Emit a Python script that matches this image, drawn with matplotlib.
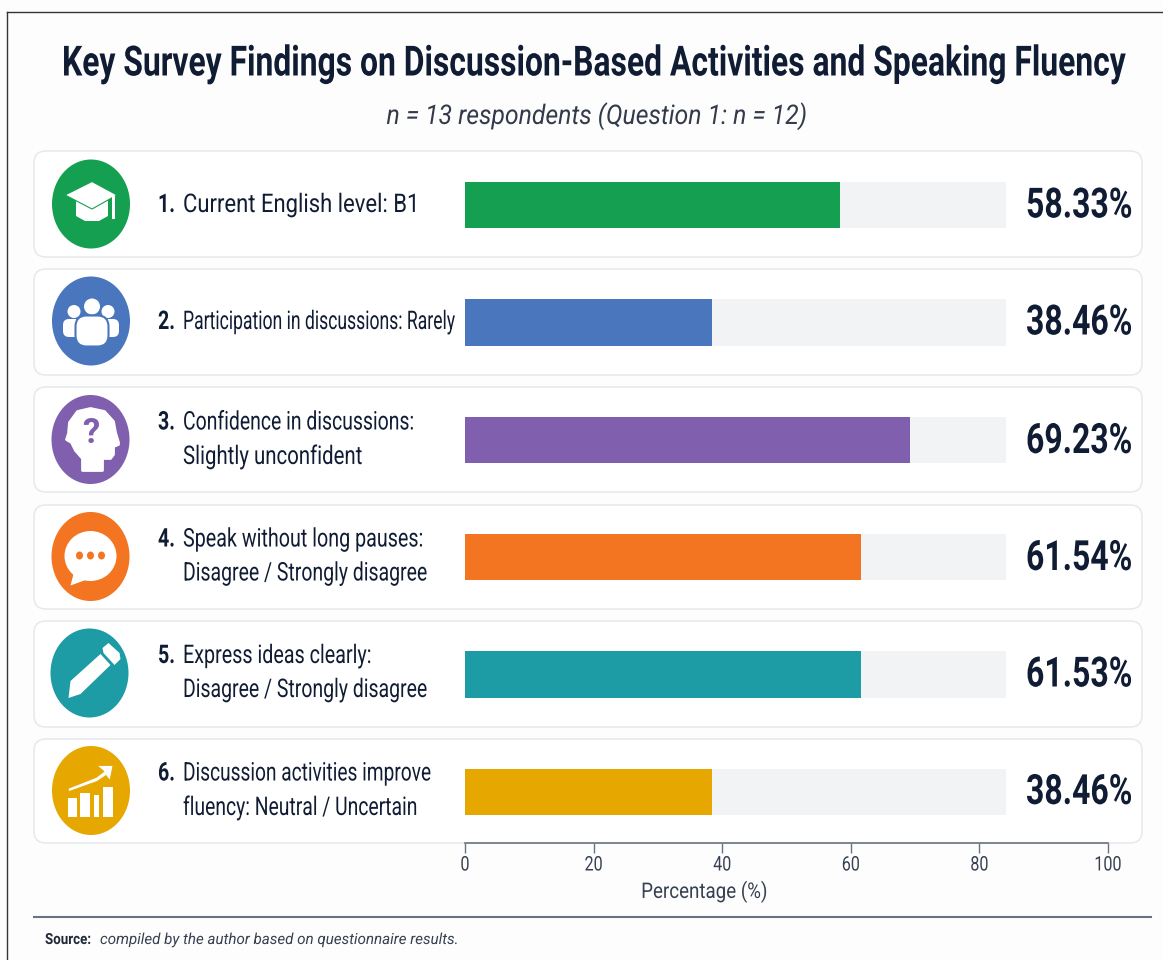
import matplotlib
matplotlib.use("Agg")
import matplotlib.pyplot as plt
from matplotlib.patches import Circle, Ellipse, FancyBboxPatch, Polygon, Rectangle
from matplotlib.patheffects import AbstractPathEffect
from matplotlib.transforms import Affine2D

# survey results
labels = [
    ["Current English level: B1"],
    ["Participation in discussions: Rarely"],
    ["Confidence in discussions:", "Slightly unconfident"],
    ["Speak without long pauses:", "Disagree / Strongly disagree"],
    ["Express ideas clearly:", "Disagree / Strongly disagree"],
    ["Discussion activities improve", "fluency: Neutral / Uncertain"],
]
values = [58.33, 38.46, 69.23, 61.54, 61.53, 38.46]
track_value = 84.1
colors = ["#14a050", "#4a76bd", "#7f5fae", "#f37421", "#1d9ca5", "#e6a800"]
ticks = [0, 20, 40, 60, 80, 100]

# how far each label line runs, in pixels
label_widths = [[237], [273], [232, 180], [241, 245], [189, 245], [249, 235]]

W, H = 1163, 960
NAVY = "#101c33"
GREY = "#6b7280"

plt.rcParams["font.family"] = ["Roboto", "DejaVu Sans"]

fig = plt.figure(figsize=(W / 100, H / 100), dpi=100, facecolor="#fdfdfd")
renderer = fig.canvas.get_renderer()


class Squeeze(AbstractPathEffect):
    # no condensed face is installed, so narrow the glyph outlines around x0
    def __init__(self, sx, x0):
        super().__init__()
        self.squeeze = Affine2D().translate(-x0, 0).scale(sx, 1).translate(x0, 0)

    def draw_path(self, renderer, gc, tpath, affine, rgbFace=None):
        super().draw_path(renderer, gc, tpath, affine + self.squeeze, rgbFace)


def squeezed(ax, x, y, s, width, **kw):
    t = ax.text(x, y, s, va="center", **kw)
    t.set_path_effects([Squeeze(width / t.get_window_extent(renderer).width, x)])
    return t


# pixel-space layer for cards, icons and text
bg = fig.add_axes([0, 0, 1, 1])
bg.set_xlim(0, W)
bg.set_ylim(H, 0)
bg.axis("off")

bg.plot([6.5, 6.5], [12, H], color="#333333", lw=1)
bg.plot([6.5, W], [12, 12], color="#333333", lw=1)

squeezed(bg, 593, 64, "Key Survey Findings on Discussion-Based Activities and Speaking Fluency",
         1062, ha="center", fontsize=30, fontweight="bold", color=NAVY)
squeezed(bg, 597, 116, "n = 13 respondents (Question 1: n = 12)",
         421, ha="center", fontsize=19.5, style="italic", color="#333b4a")

card_tops = [151, 269, 387, 505, 621, 739]
card_bottoms = [257, 375, 492, 609, 727, 843]
icon_y = [204, 321, 439.5, 556.5, 673, 790.5]
icon_x = [91, 91, 90.5, 90.5, 89.5, 91]

for t, b in zip(card_tops, card_bottoms):
    bg.add_patch(FancyBboxPatch((34 + 12, t + 12), 1108 - 24, b - t - 24,
                                boxstyle="round,pad=12,rounding_size=12",
                                fc="white", ec="#e6e8eb", lw=1.1))


def cap_icon(ax, x, y, c):
    ax.add_patch(Polygon([(x - 15, y - 6), (x + 1, y + 3), (x + 17, y - 6), (x + 17, y + 12),
                          (x + 8, y + 17), (x - 6, y + 17), (x - 15, y + 12)], fc="white"))
    ax.add_patch(Polygon([(x + 1, y - 22.5), (x - 26, y - 9), (x + 1, y + 5), (x + 26, y - 9)],
                         fc="white", ec=c, lw=0.8))
    ax.add_patch(Rectangle((x + 20.5, y - 8), 3.5, 23, fc="white"))


def people_icon(ax, x, y, c):
    for dx in (-17, 17):
        ax.add_patch(Circle((x + dx, y - 9.5), 6.5, fc="white"))
        ax.add_patch(FancyBboxPatch((x + dx - 7, y + 2), 14, 10,
                                    boxstyle="round,pad=4,rounding_size=6", fc="white", ec="none"))
    ax.add_patch(Circle((x + 1, y - 14.5), 8, fc="white"))
    ax.add_patch(FancyBboxPatch((x - 14, y - 4), 30, 28,
                                boxstyle="round,pad=1.5,rounding_size=11", fc="white", ec=c, lw=1.5))


def head_icon(ax, x, y, c):
    pts = [(-8, 31), (-8, 19), (-15, 11), (-19, 3), (-24, 0), (-22, -6), (-21, -17), (-13, -28),
           (0, -31), (14, -28), (23, -18), (25, -7), (28, 3), (28, 5), (23, 7), (23, 15),
           (20, 19), (12, 19), (12, 31)]
    ax.add_patch(Polygon([(x + a, y + b) for a, b in pts], fc="white", ec="white", lw=2,
                         joinstyle="round"))
    ax.text(x, y - 6, "?", ha="center", va="center", fontsize=25, fontweight="bold", color=c)


def bubble_icon(ax, x, y, c):
    ax.add_patch(Polygon([(x - 15, y + 10), (x - 20, y + 29), (x + 2, y + 21)], fc="white"))
    ax.add_patch(Ellipse((x, y - 0.5), 52, 50, fc="white"))
    for dx in (-11, 0, 11):
        ax.add_patch(Ellipse((x + dx, y - 1), 7, 8, fc=c))


def pencil_icon(ax, x, y, c):
    ax.add_patch(Polygon([(x - 21, y + 25), (x - 19, y + 8), (x + 11, y - 19), (x + 21, y - 8),
                          (x - 9, y + 21)], fc="white", joinstyle="round"))
    ax.add_patch(Polygon([(x + 13, y - 25), (x + 19, y - 30), (x + 30, y - 20), (x + 31, y - 14),
                          (x + 25, y - 8), (x + 14, y - 20)], fc="white", joinstyle="round"))


def growth_icon(ax, x, y, c):
    for dx, w, h in ((-23, 9, 19), (-11, 10, 24), (3, 5, 22), (12, 10, 30)):
        ax.add_patch(Rectangle((x + dx, y + 26 - h), w, h, fc="white"))
    ax.add_patch(Polygon([(x - 23, y - 2), (x + 5, y - 13), (x + 13, y - 19), (x + 6, y - 25),
                          (x + 22, y - 25), (x + 19, y - 10), (x + 15, y - 15), (x + 6, y - 9),
                          (x - 22, y + 1)], fc="white", ec=c, lw=0.6))


icons = [cap_icon, people_icon, head_icon, bubble_icon, pencil_icon, growth_icon]
for draw, x, y, c in zip(icons, icon_x, icon_y, colors):
    bg.add_patch(Ellipse((x, y), 78, 89, fc=c, ec="none"))
    draw(bg, x, y, c)

# row labels and percentages
for i, (lines, widths, y) in enumerate(zip(labels, label_widths, icon_y)):
    first_y = y + 1 if len(lines) == 1 else y - 17
    squeezed(bg, 158, first_y, f"{i + 1}.", 17, ha="left", fontsize=18.5, fontweight="bold", color=NAVY)
    for n, (line, w) in enumerate(zip(lines, widths)):
        squeezed(bg, 183, first_y + n * 34, line, w, ha="left", fontsize=18.5, color=NAVY)
    squeezed(bg, 1132, y + 2, f"{values[i]:.2f}%", 106, ha="right",
             fontsize=30, fontweight="bold", color=NAVY)

bg.plot([34, 1151], [917, 917], color="#6b7280", lw=1.5)
squeezed(bg, 45, 940, "Source:", 46, ha="left", fontsize=11, fontweight="bold", color="#1f2937")
squeezed(bg, 100, 940, "compiled by the author based on questionnaire results.", 358, ha="left",
         fontsize=11, style="italic", color="#374151")

# bars on a real percentage axis, lined up with the cards
left, right, top, bottom = 465, 1108, 151, 843
ax = fig.add_axes([left / W, 1 - bottom / H, (right - left) / W, (bottom - top) / H])
ax.patch.set_alpha(0)
row_step = 117.4
ax.set_xlim(0, 100)
ax.set_ylim((bottom - 205) / row_step, (top - 205) / row_step)
rows = list(range(len(values)))
ax.barh(rows, [track_value] * len(values), height=0.395, color="#f2f3f5")
ax.barh(rows, values, height=0.395, color=colors)
ax.set_yticks([])
ax.set_xticks(ticks)
ax.tick_params(axis="x", length=7, width=1, color=GREY, labelcolor="#374151", labelsize=14.5, pad=2)
for s in ("top", "left", "right"):
    ax.spines[s].set_visible(False)
ax.spines["bottom"].set_color(GREY)
ax.spines["bottom"].set_linewidth(1.2)
for tick, lab in zip(ticks, ax.get_xticklabels()):
    lab.set_path_effects([Squeeze(0.8, ax.transData.transform((tick, 0))[0])])
xlab = ax.set_xlabel("Percentage (%)", fontsize=15.5, color="#374151", x=0.372, labelpad=4)
xlab.set_path_effects([Squeeze(126 / xlab.get_window_extent(renderer).width, 704)])

fig.savefig("out.png", dpi=100, facecolor=fig.get_facecolor())
